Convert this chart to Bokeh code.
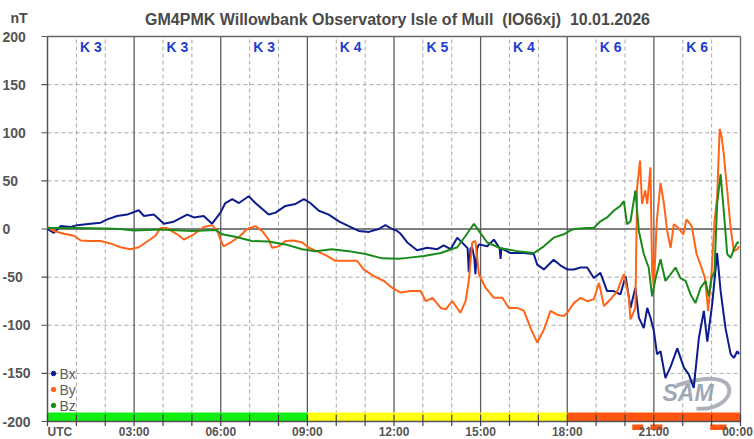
from bokeh.plotting import figure
from bokeh.models import Range1d
from bokeh.core.properties import value
from bokeh.embed import file_html
from bokeh.resources import INLINE

# ---------------- data ----------------
NB = "\u00a0"
title_text = "GM4PMK Willowbank Observatory Isle of Mull " + NB + "(IO66xj) " + NB + "10.01.2026"
unit_text = "nT"

bx_t = [0.0, 0.22, 0.45, 0.8, 1.03, 1.49, 1.84, 2.07, 2.41, 2.76, 3.16, 3.34, 3.68, 3.8, 4.03,
        4.37, 4.84, 5.07, 5.41, 5.7, 5.99, 6.16, 6.4, 6.63, 6.97, 7.2, 7.66, 7.9, 8.24, 8.59,
        8.88, 9.1, 9.4, 9.74, 10.09, 10.43, 10.78, 11.13, 11.47, 11.7, 11.94, 12.11, 12.23,
        12.46, 12.8, 13.15, 13.5, 13.72, 13.96, 14.19, 14.42, 14.55, 14.59, 14.65, 14.71,
        14.78, 14.82, 14.88, 14.94, 15.23, 15.46, 15.66, 15.69, 15.72, 16.03, 16.5, 16.84,
        16.96, 17.19, 17.53, 17.77, 18.0, 18.23, 18.46, 18.69, 18.92, 19.15, 19.38, 19.61,
        19.84, 20.02, 20.19, 20.36, 20.48, 20.65, 20.77, 20.88, 21.0, 21.11, 21.23, 21.4,
        21.58, 21.81, 22.04, 22.21, 22.38, 22.56, 22.73, 22.85, 23.02, 23.19, 23.31, 23.48,
        23.66, 23.77, 23.89, 23.95]
bx = [0, -4, 3, 2, 4, 5.5, 6.6, 10, 13.5, 15, 19.5, 13.5, 15, 12, 5.5,
      7.6, 15, 12, 13.5, 5.5, 17, 27, 31, 27, 34, 27, 15, 17, 24, 26,
      31, 27, 19, 15, 8, 3, -2, -3, 0, 4, 0, -2, -5,
      -14, -22, -19.5, -21, -17, -21, -9, -16, -20, -45, -20, -19.5,
      -30, -47, -20, -16, -18, -11, -20, -31, -20, -25, -25, -26,
      -37, -42, -32, -38, -42, -42, -40, -40, -51, -45.5, -64.5, -64.5,
      -68, -49, -82, -61, -92, -103, -82, -92, -106, -130, -127, -155,
      -143, -124, -144, -151, -165, -113, -85, -117, -78, -25, -64, -103,
      -130, -134, -127, -130]

by_t = [0.0, 0.22, 0.57, 0.92, 1.15, 1.49, 1.84, 2.18, 2.53, 2.87, 3.16, 3.45, 3.74, 3.91, 4.14,
        4.49, 4.72, 5.07, 5.41, 5.7, 5.88, 5.99, 6.1, 6.34, 6.68, 6.91, 7.2, 7.43, 7.66, 7.78,
        8.01, 8.24, 8.53, 8.82, 9.05, 9.33, 9.68, 9.97, 10.38, 10.72, 10.95, 11.3, 11.65,
        11.93, 12.23, 12.57, 12.92, 13.1, 13.33, 13.62, 13.79, 14.02, 14.3, 14.48, 14.59,
        14.71, 14.82, 14.94, 15.17, 15.46, 15.75, 15.98, 16.27, 16.5, 16.73, 16.96, 17.19,
        17.42, 17.65, 17.88, 18.0, 18.23, 18.46, 18.69, 18.92, 19.1, 19.27, 19.5, 19.73,
        19.96, 20.13, 20.19, 20.36, 20.42, 20.52, 20.59, 20.7, 20.77, 20.88, 20.94, 21.0,
        21.1, 21.23, 21.35, 21.46, 21.58, 21.69, 21.85, 22.02, 22.13, 22.31, 22.48, 22.65,
        22.77, 22.88, 23.0, 23.1, 23.19, 23.28, 23.35, 23.42, 23.54, 23.66, 23.77, 23.89, 23.95]
by = [2, -2, -5, -7, -12, -12.5, -12.5, -15, -19, -21, -19, -13, -7, 1, 1,
      -5.5, -11, -5.5, 2, 4, -2, -11, -18, -14, -7, 0, 3, -2, -11, -19.5,
      -18, -12.5, -12, -14, -19.5, -23, -28, -33, -33, -33, -42, -49, -54,
      -61, -66, -64.5, -64.5, -75, -71.5, -82, -83.5, -75, -87, -75, -54,
      -14, -12.5, -47, -61, -71.5, -71.5, -82, -82, -85, -103, -118, -104.5,
      -85, -89, -90.5, -87, -77, -71.5, -75, -73, -56, -80, -73, -64.5,
      -47, -70, -94, -82, 43, 71, 26, 40, 26, 64, -44, -61,
      8, 48, 26, -2, -19.5, 5, 1, -5.5, 10, 3, -26, -40,
      -51, -85, -44, 8, 33, 104, 95, 78, 40, 1, -23, -21, -18]

bz_t = [0.0, 1.0, 2.0, 2.5, 3.0, 3.9, 5.0, 5.82, 6.05, 6.5, 7.08, 7.66, 8.24, 8.82, 9.28,
        9.85, 10.43, 11.01, 11.59, 12.17, 12.46, 13.04, 13.62, 14.19, 14.48, 14.77, 14.94,
        15.23, 15.69, 16.27, 16.84, 17.19, 17.53, 17.88, 18.11, 18.23, 18.69, 18.92, 19.15,
        19.38, 19.61, 19.84, 19.96, 20.07, 20.19, 20.36, 20.48, 20.65, 20.82, 20.94, 21.06,
        21.23, 21.4, 21.58, 21.75, 21.92, 22.1, 22.27, 22.44, 22.62, 22.79, 22.9, 23.0,
        23.1, 23.19, 23.31, 23.42, 23.54, 23.66, 23.77, 23.89, 23.95]
bz = [1, 1, 0.5, 0, -1.5, -0.5, -2, -1, -5.5, -8, -12.5, -13, -16, -21, -23,
      -21, -23, -26, -30.5, -31, -30, -28, -25, -19, -7, 5.5, -2,
      -14, -20, -23, -25, -18, -9, -5.5, -1.5, 0, 1, 1, 8,
      12, 19, 24, 29, 5, 8, 40, -2, -26, -40, -70, -51,
      -31.5, -54, -47, -40, -51, -54, -68, -77, -61, -54, -70, -51,
      -44, 26, 57, 19, -26, -30, -21, -14, -14]

series_names = ["Bx", "By", "Bz"]
series_colors = ["#0c1c8c", "#ff6418", "#1a8a1a"]

k_start = [0, 3, 6, 9, 12, 15, 18, 21]
k_index = [3, 3, 3, 4, 5, 4, 6, 6]

alert_start = [20.25, 20.88, 22.95]
alert_end = [20.63, 21.3, 23.52]

y_ticks = [-200, -150, -100, -50, 0, 50, 100, 150, 200]
x_tick_hours = [0, 3, 6, 9, 12, 15, 18, 21, 24]
x_tick_labels = ["UTC", "03:00", "06:00", "09:00", "12:00", "15:00", "18:00", "21:00", "00:00"]

# ---------------- layout (pixels of the 754x439 canvas) ----------------
FONT = "Liberation Sans"
TXT = "#555555"
W, H = 754, 439
FL, FR = 47, 740          # x pixels of 00:00 and 24:00
FT, FB = 36, 421          # y pixels of +200 and -200
PXH = (FR - FL) / 24.0
PXV = (FB - FT) / 400.0

def hx(px):  # pixel column -> hours
    return (px - FL) / PXH

def vy(py):  # pixel row -> nT
    return 200 - (py - FT) / PXV

def k_color(k):
    if k <= 3:
        return "#11ee11"
    if k <= 5:
        return "#ffff11"
    return "#ff5511"

p = figure(width=W, height=H, x_range=Range1d(hx(0), hx(W)), y_range=Range1d(vy(H), vy(0)),
           output_backend="svg", toolbar_location=None,
           min_border_left=0, min_border_right=0, min_border_top=0, min_border_bottom=0,
           outline_line_color=None, background_fill_color="white",
           border_fill_color="white")
p.grid.visible = False
p.xaxis.visible = False
p.yaxis.visible = False

# grid lines
hours = list(range(1, 24))
dash_h = [h for h in hours if h % 3 != 0]
solid_h = [h for h in hours if h % 3 == 0]
p.segment(x0=dash_h, y0=-200, x1=dash_h, y1=200, line_color="#a8a8a8",
          line_width=1, line_dash="4 3")
dash_v = [v for v in y_ticks if v not in (-200, 0, 200)]
p.segment(x0=0, y0=dash_v, x1=24, y1=dash_v, line_color="#a8a8a8",
          line_width=1, line_dash="4 3")
p.segment(x0=solid_h, y0=-200, x1=solid_h, y1=200, line_color="#5e5e5e", line_width=1.3)
p.segment(x0=0, y0=0, x1=24, y1=0, line_color="#555555", line_width=1.5)

# K-index colour bar
k_end = [s + 3 for s in k_start]
p.quad(left=k_start, right=k_end, bottom=-200, top=vy(412),
       color=[k_color(k) for k in k_index], line_color=None)
# alert marks under the axis
p.quad(left=alert_start, right=alert_end, bottom=vy(429.5), top=vy(424),
       color="#ff5511", line_color=None)

# frame / axes
p.segment(x0=0, y0=-200, x1=24, y1=-200, line_color="#555555", line_width=1.5)   # time axis
p.segment(x0=0, y0=-200, x1=0, y1=200, line_color="#555555", line_width=1.5)     # nT axis
p.segment(x0=0, y0=200, x1=24, y1=200, line_color="#666666", line_width=1.3)     # top
p.segment(x0=24, y0=-200, x1=24, y1=200, line_color="#666666", line_width=1.3)   # right
all_h = list(range(0, 25))
p.segment(x0=all_h, y0=vy(414), x1=all_h, y1=vy(425.5), line_color="#444444", line_width=1.2)
p.segment(x0=hx(41), y0=y_ticks, x1=0, y1=y_ticks, line_color="#555555", line_width=1.2)

# SAM watermark (behind the data)
p.bezier(x0=[hx(676)], y0=[vy(385)], x1=[hx(696)], y1=[vy(408)],
         cx0=[hx(748)], cy0=[vy(360)], cx1=[hx(738)], cy1=[vy(412)],
         line_color="#a3a9b2", line_width=4, line_alpha=0.9)
p.text(x=[hx(662)], y=[vy(392)], text=["SAM"], text_font=value(FONT),
       text_font_style="bold italic", text_font_size="23px", text_color="#8e98a8",
       text_alpha=0.85, text_align="left", text_baseline="middle")

# data
for t, v, c in zip([bx_t, by_t, bz_t], [bx, by, bz], series_colors):
    p.line(t, v, line_color=c, line_width=2)

# K labels
k_mid = [s + 1.5 for s in k_start]
p.text(x=k_mid, y=vy(46), text=["K %d" % k for k in k_index],
       text_font=value(FONT), text_font_style="bold", text_font_size="14px",
       text_color="#1f3ccf", text_align="center", text_baseline="middle")

# legend (dot + name)
leg_y = [vy(373), vy(389), vy(405)]
p.scatter(x=hx(53), y=leg_y, marker="circle", size=4.5, color=series_colors)
p.text(x=hx(59), y=leg_y, text=series_names, text_font=value(FONT), text_font_size="14px",
       text_color="#606060", text_align="left", text_baseline="middle")

# title and unit
p.text(x=[hx(397)], y=[vy(18.5)], text=[title_text], text_align="center",
       text_baseline="middle", text_font=value(FONT), text_font_style="bold",
       text_font_size="16px", text_color="#4a4a4a")
p.text(x=[hx(10)], y=[vy(17.5)], text=[unit_text], text_align="left",
       text_baseline="middle", text_font=value(FONT), text_font_style="bold",
       text_font_size="14px", text_color="#4a4a4a")

# y tick labels (left aligned)
p.text(x=hx(2), y=y_ticks, text=[str(v) for v in y_ticks], text_align="left",
       text_baseline="middle", text_font=value(FONT), text_font_style="bold",
       text_font_size="14px", text_color=TXT)

# x tick labels
p.text(x=x_tick_hours[:1], y=vy(431.5), text=x_tick_labels[:1], text_align="left",
       text_baseline="middle", text_font=value(FONT), text_font_style="bold",
       text_font_size="12px", text_color=TXT)
p.text(x=x_tick_hours[1:-1], y=vy(431.5), text=x_tick_labels[1:-1], text_align="center",
       text_baseline="middle", text_font=value(FONT), text_font_style="bold",
       text_font_size="12px", text_color=TXT)
p.text(x=x_tick_hours[-1:], y=vy(431.5), text=x_tick_labels[-1:], text_align="center",
       x_offset=-3, text_baseline="middle", text_font=value(FONT), text_font_style="bold",
       text_font_size="12px", text_color=TXT)

open("out.html", "w").write(file_html(p, INLINE))
